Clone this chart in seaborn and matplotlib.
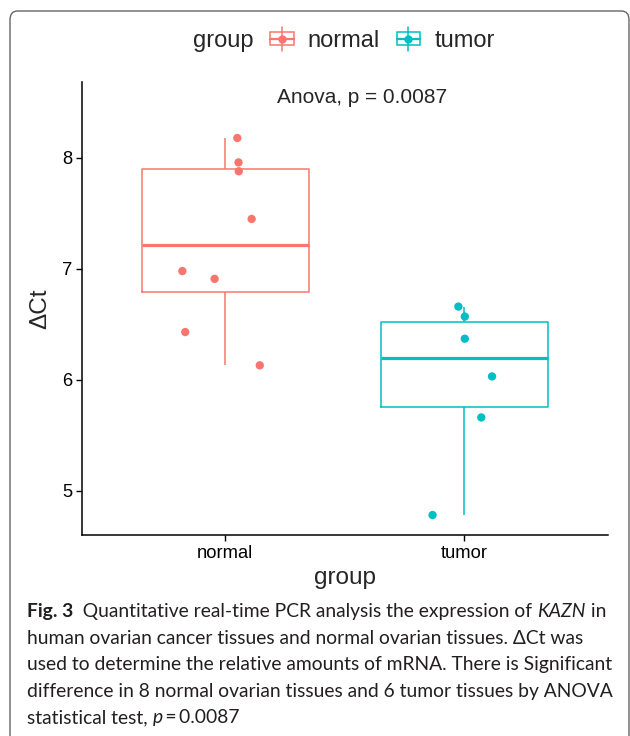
import numpy as np
import pandas as pd
import seaborn as sns
import matplotlib.pyplot as plt
from matplotlib.patches import Rectangle, FancyBboxPatch
from matplotlib.lines import Line2D
from matplotlib.legend_handler import HandlerBase

# data
groups = ["normal", "tumor"]
normal_dct = [8.18, 7.96, 7.88, 7.45, 6.98, 6.91, 6.43, 6.13]
tumor_dct = [6.66, 6.57, 6.37, 6.03, 5.66, 4.78]
# horizontal jitter of each point (category units)
normal_jit = [0.05, 0.055, 0.056, 0.11, -0.18, -0.045, -0.168, 0.144]
tumor_jit = [-0.025, 0.002, 0.002, 0.116, 0.071, -0.133]
y_ticks = [5, 6, 7, 8]
stat_label = "Anova, p = 0.0087"
colors = ["#F8766D", "#00BFC4"]

df = pd.DataFrame({
    "group": ["normal"] * len(normal_dct) + ["tumor"] * len(tumor_dct),
    "dct": normal_dct + tumor_dct,
    "jit": normal_jit + tumor_jit,
})
df["xpos"] = df["group"].map({g: i for i, g in enumerate(groups)}) + df["jit"]

sns.set_theme(style="white")
plt.rcParams["font.family"] = ["Liberation Sans", "DejaVu Sans"]

fig = plt.figure(figsize=(6.3, 7.36), dpi=100)
W, H = 630, 736
ax = fig.add_axes([82 / W, 1 - 535 / H, (607.7 - 82) / W, (535 - 82) / H])

palette = dict(zip(groups, colors))
sns.boxplot(data=df, x="group", y="dct", hue="group", order=groups,
            palette=palette, fill=False, width=0.7, linewidth=1.1,
            showfliers=False, showcaps=False, legend=False, ax=ax,
            medianprops={"linewidth": 2.3})
sns.scatterplot(data=df, x="xpos", y="dct", hue="group", palette=palette,
                s=36, edgecolor="none", legend=False, ax=ax, zorder=3)

ax.set_xlim(-0.6, 1.6)
ax.set_ylim(4.6, 8.685)
ax.set_xticks(range(len(groups)))
ax.set_xticklabels(groups)
ax.set_yticks(y_ticks)
ax.tick_params(axis="both", labelsize=13.2, length=4, width=1.0, color="black",
               labelcolor="black", direction="out", pad=3,
               bottom=True, left=True)
for side in ["top", "right"]:
    ax.spines[side].set_visible(False)
for side in ["left", "bottom"]:
    ax.spines[side].set_color("black")
    ax.spines[side].set_linewidth(1.1)
ax.set_xlabel("group", fontsize=17.5, labelpad=4)
ax.set_ylabel("ΔCt", fontsize=17.5, labelpad=8)
ax.text(0.532, 0.965, stat_label, transform=ax.transAxes, ha="center",
        va="center", fontsize=15)


class BoxKey(HandlerBase):
    def create_artists(self, legend, orig_handle, xdescent, ydescent,
                       width, height, fontsize, trans):
        c = orig_handle.get_color()
        cx = width / 2 - xdescent
        cy = height / 2 - ydescent
        bh = height * 0.8
        box = Rectangle((-xdescent, cy - bh / 2), width, bh, fill=False,
                        edgecolor=c, linewidth=1.1, transform=trans)
        whisk = Line2D([cx, cx], [cy - bh * 0.9, cy + bh * 0.9], color=c,
                       linewidth=1.1, transform=trans)
        med = Line2D([-xdescent, width - xdescent], [cy, cy], color=c,
                     linewidth=1.6, transform=trans)
        dot = Line2D([cx], [cy], marker="o", markersize=5, color=c,
                     linestyle="none", transform=trans)
        return [whisk, box, med, dot]


handles = [Line2D([], [], color=c) for c in colors]
fig.text(193 / W, 1 - 41 / H, "group", fontsize=17, ha="left", va="center")
fig.legend(handles, groups, handler_map={Line2D: BoxKey()},
           loc="center left", bbox_to_anchor=(270 / W, 1 - 41 / H),
           ncol=2, frameon=False, fontsize=17, borderpad=0,
           borderaxespad=0, handlelength=1.0, handletextpad=0.6,
           columnspacing=0.7)

# frame around figure + caption
frame = FancyBboxPatch((10 / W, -0.02), (629 - 10) / W, (725 / H) + 0.02,
                       boxstyle="round,pad=0,rounding_size=0.012",
                       transform=fig.transFigure, fill=False,
                       edgecolor="#666666", linewidth=1.0)
fig.patches.append(frame)

cap_font = ["Lato", "DejaVu Sans"]
cap_size = 13.9
caption = [
    [("Fig. 3", "bold", "normal"), ("  Quantitative real-time PCR analysis the expression of ", "normal", "normal"),
     ("KAZN", "normal", "italic"), (" in", "normal", "normal")],
    [("human ovarian cancer tissues and normal ovarian tissues. ΔCt was", "normal", "normal")],
    [("used to determine the relative amounts of mRNA. There is Significant", "normal", "normal")],
    [("difference in 8 normal ovarian tissues and 6 tumor tissues by ANOVA", "normal", "normal")],
    [("statistical test, ", "normal", "normal"), ("p", "normal", "italic"), ("\u2009=\u20090.0087", "normal", "normal")],
]
renderer = fig.canvas.get_renderer()
line_y = [617, 644, 670, 697, 723]
for segs, y in zip(caption, line_y):
    x = 27
    for txt, weight, style in segs:
        t = fig.text(x / W, 1 - y / H, txt, fontsize=cap_size, family=cap_font,
                     fontweight=weight, fontstyle=style, ha="left", va="baseline",
                     color="#231f20")
        x += t.get_window_extent(renderer).width

fig.savefig("out.png", dpi=100)
